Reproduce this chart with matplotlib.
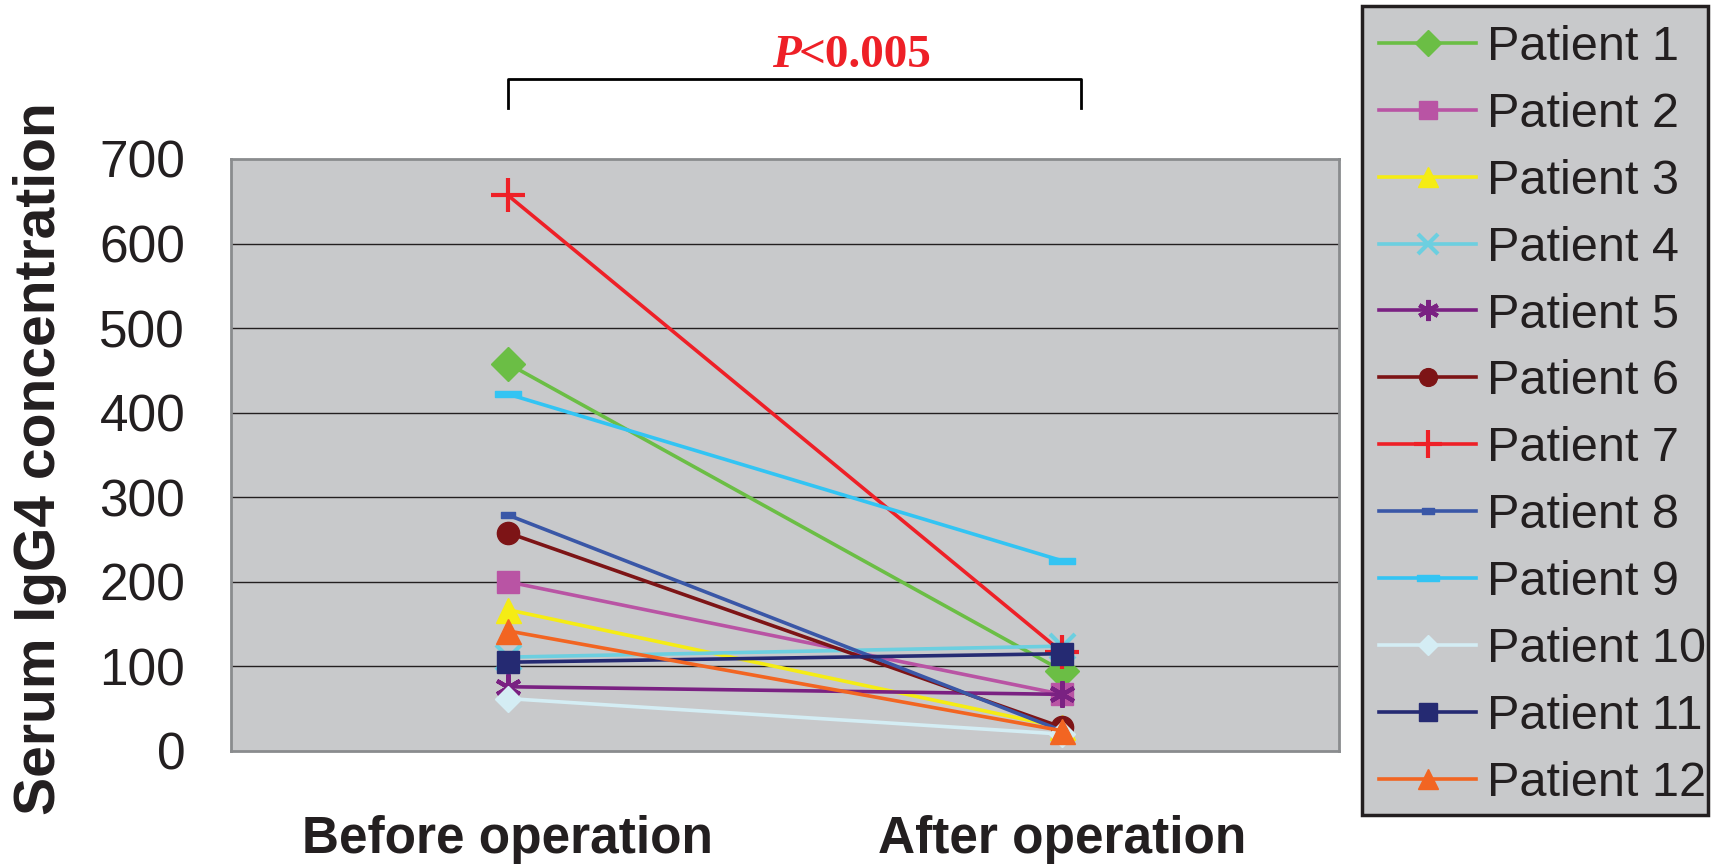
import matplotlib
matplotlib.use("Agg")
from matplotlib import pyplot
from matplotlib.path import Path
from matplotlib.patches import Rectangle

# IgG4 levels per patient, before and after surgery
stages = ["Before operation", "After operation"]
patients = [f"Patient {i}" for i in range(1, 13)]
before = [458, 200, 167, 111, 76, 258, 657, 279, 422, 62, 105, 142]
after = [95, 67, 28, 124, 67, 28, 117, 24, 225, 20, 115, 24]
yticks = [0, 100, 200, 300, 400, 500, 600, 700]
p_text = "<0.005"

# small flat bar markers used by patients 8 and 9
bar_short = Path([(-1, -0.5), (1, -0.5), (1, 0.5), (-1, 0.5), (-1, -0.5)], closed=True)
bar_long = Path([(-1, -0.25), (1, -0.25), (1, 0.25), (-1, 0.25), (-1, -0.25)], closed=True)

styles = [
    dict(color="#6BBE45", marker="D", ms=17),
    dict(color="#B954A4", marker="s", ms=16),
    dict(color="#F5EC14", marker="^", ms=18),
    dict(color="#6CCFE0", marker="x", ms=18, mew=3),
    dict(color="#7A2182", marker=(6, 2, 0), ms=19, mew=3),
    dict(color="#7D1416", marker="o", ms=16),
    dict(color="#EE2027", marker="+", ms=25, mew=3),
    dict(color="#3A57A7", marker=bar_short, ms=10),
    dict(color="#33C4F3", marker=bar_long, ms=19),
    dict(color="#D4EDF4", marker="D", ms=13),
    dict(color="#252A72", marker="s", ms=16),
    dict(color="#F26522", marker="^", ms=18),
]

ink = "#231F20"
panel = "#C8C9CB"
pyplot.rcParams["font.family"] = ["Liberation Sans", "DejaVu Sans"]

W, H = 1715, 867
fig = pyplot.figure(figsize=(W / 100, H / 100), dpi=100)
ax = fig.add_axes([231 / W, 1 - 751 / H, 1108 / W, 592 / H])
ax.set_facecolor(panel)

x = range(len(stages))
for i, name in enumerate(patients):
    st = dict(styles[i])
    ax.plot(x, [before[i], after[i]], lw=2.6, label=name, zorder=3 + i,
            mec=st["color"], mfc=st["color"], **st)

ax.set_xlim(-0.5, 1.5)
ax.set_ylim(0, 700)
ax.set_yticks(yticks)
ax.set_yticklabels([str(v) for v in yticks], fontsize=37, color=ink)
ax.set_xticks(list(x))
ax.set_xticklabels(stages, fontsize=37, fontweight="bold", color=ink)
ax.tick_params(axis="y", length=0, pad=33)
ax.tick_params(axis="x", length=0, pad=46)
for v in yticks[1:-1]:
    ax.axhline(v, color=ink, lw=1, zorder=1)
for s in ax.spines.values():
    s.set_color("#8A8C8E")
    s.set_linewidth(2)

fig.text(40 / W, 1 - 459 / H, "Serum IgG4 concentration", rotation=90,
         ha="center", va="center", fontsize=41, fontweight="bold", color=ink)

# significance bracket
ax.plot([0, 0, 1.034, 1.034], [760, 795, 795, 760], color="black", lw=2,
        clip_on=False)
p_label = ax.text(0.477, 822, "P", fontsize=34, fontweight="bold",
                  style="italic", family="Liberation Serif", color="#EE2027",
                  ha="left", va="center", clip_on=False)
ax.annotate(p_text, xy=(0.92, 0.5), xycoords=p_label, fontsize=34,
            fontweight="bold", family="Liberation Serif", color="#EE2027",
            ha="left", va="center", annotation_clip=False)

# legend box drawn separately so its size is fixed
fig.patches.append(Rectangle((1362 / W, 1 - 815 / H), 346 / W, 809 / H,
                             transform=fig.transFigure, facecolor=panel,
                             edgecolor=ink, lw=2.5, zorder=-1))
leg = ax.legend(loc="upper left", bbox_to_anchor=(1379 / W, 1 - 25 / H),
                bbox_transform=fig.transFigure, fontsize=35, frameon=False,
                handlelength=2.0, handletextpad=0.22, labelspacing=0.45,
                borderpad=0, borderaxespad=0, markerscale=0.8)
for t in leg.get_texts():
    t.set_color(ink)

fig.savefig("out.png", dpi=100)
